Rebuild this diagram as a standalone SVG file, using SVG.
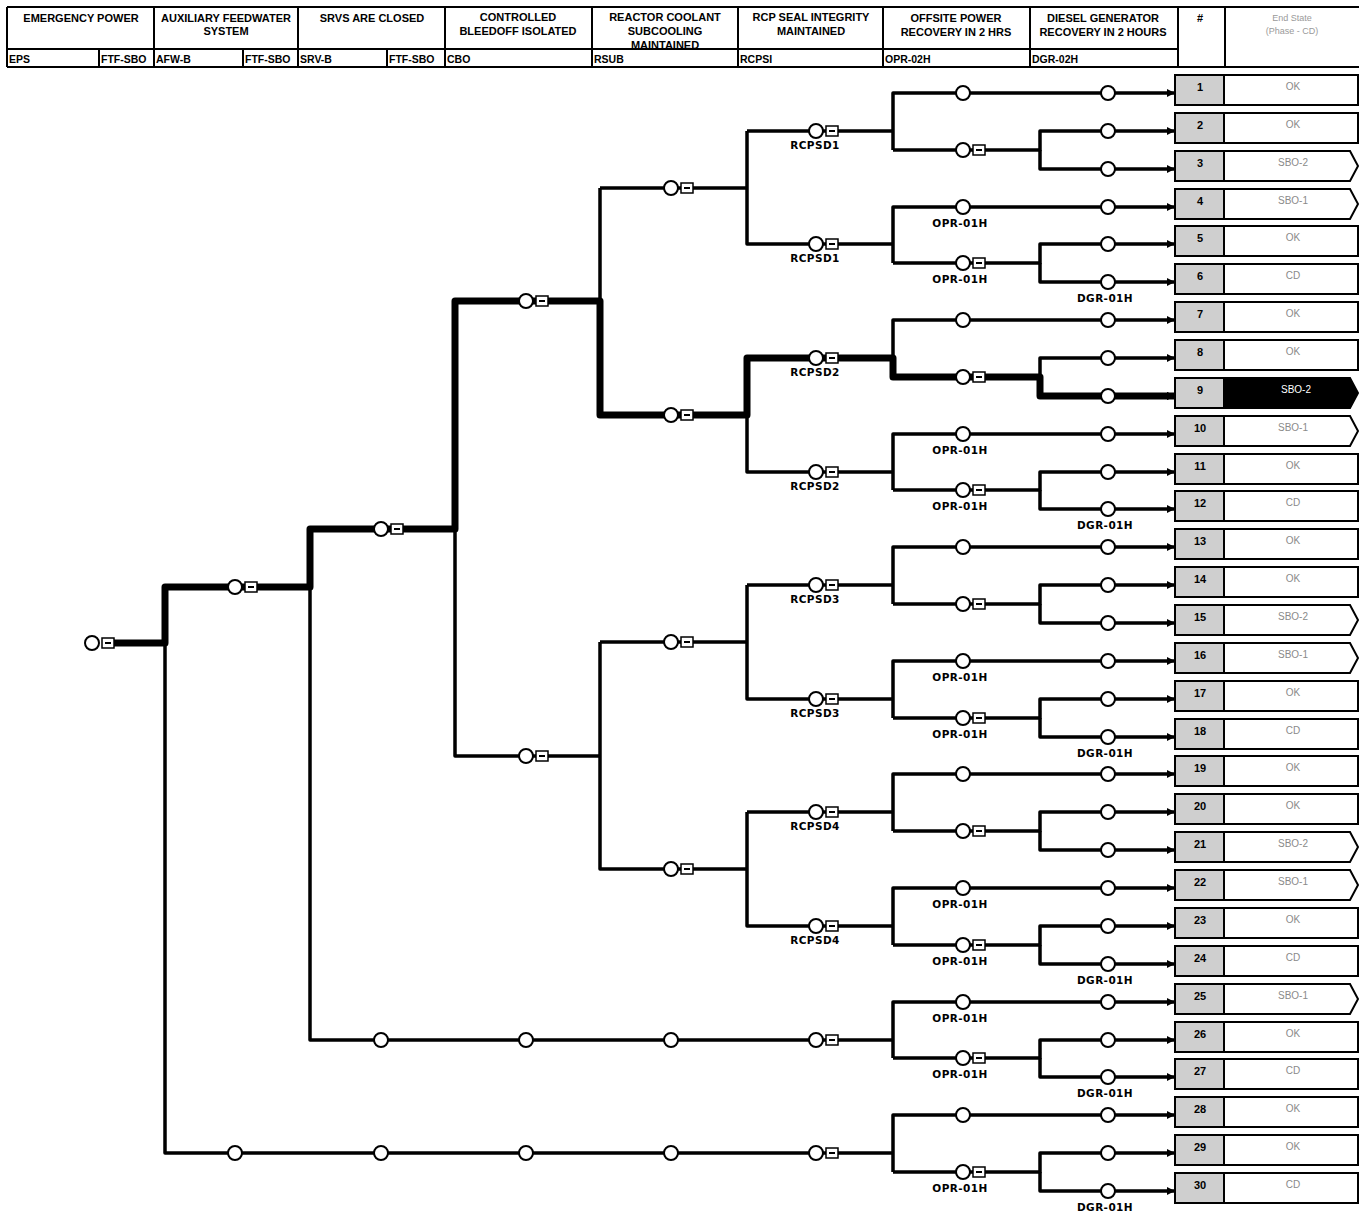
<svg xmlns="http://www.w3.org/2000/svg" xmlns:xlink="http://www.w3.org/1999/xlink" width="1359" height="1213" viewBox="0 0 1359 1213">
<style>
.ln{fill:none;stroke:#000;stroke-width:3.5;stroke-linejoin:round}
.thk{fill:none;stroke:#000;stroke-width:7;stroke-linejoin:round}
.hl{fill:none;stroke:#000;stroke-width:2}
.hd{font-family:"Liberation Sans",Arial,sans-serif;font-weight:bold;font-size:11px;text-anchor:middle}
.cd{font-family:"Liberation Sans",Arial,sans-serif;font-weight:bold;font-size:10.5px}
.lb{font-family:"DejaVu Sans",sans-serif;font-weight:bold;font-size:10.5px;text-anchor:middle;letter-spacing:0.4px}
.num{font-family:"Liberation Sans",Arial,sans-serif;font-weight:bold;font-size:11px;text-anchor:middle}
.es{font-family:"Liberation Sans",Arial,sans-serif;font-size:10px;fill:#8a8a8a;text-anchor:middle}
.esh{font-family:"Liberation Sans",Arial,sans-serif;font-size:9px;fill:#9a9a9a;text-anchor:middle}
.nc{fill:#fff;stroke:#000;stroke-width:2}
.nb{fill:#fff;stroke:#000;stroke-width:1.5}
.gr{fill:#cfcfcf;stroke:#000;stroke-width:2}
.ec{fill:#fff;stroke:#000;stroke-width:2}
.eb{fill:#000;stroke:#000;stroke-width:2}
</style>
<defs>
<marker id="ar" markerUnits="userSpaceOnUse" markerWidth="8" markerHeight="8" refX="8" refY="4" orient="auto"><path d="M0 0L8 4L0 8z" fill="#000"/></marker>
<g id="c"><circle r="7" class="nc"/></g>
<g id="cb"><circle r="7" class="nc"/><rect x="10" y="-5" width="12" height="10" class="nb"/><path d="M13 0h6" stroke="#000" stroke-width="2"/></g>
</defs>

<g id="header">
<path class="hl" d="M7 7H1359M7 49H1178M7 67H1359M7 7V67M154 7V67M298 7V67M445 7V67M592 7V67M738 7V67M883 7V67M1030 7V67M1178 7V67M1225 7V67M99 49V67M243 49V67M387 49V67"/>
<text class="hd" x="81" y="22">EMERGENCY POWER</text>
<text class="hd" x="226" y="22">AUXILIARY FEEDWATER</text>
<text class="hd" x="226" y="35">SYSTEM</text>
<text class="hd" x="372" y="22">SRVS ARE CLOSED</text>
<text class="hd" x="518" y="21">CONTROLLED</text>
<text class="hd" x="518" y="35">BLEEDOFF ISOLATED</text>
<text class="hd" x="665" y="21">REACTOR COOLANT</text>
<text class="hd" x="665" y="35">SUBCOOLING</text>
<text class="hd" x="665" y="49">MAINTAINED</text>
<text class="hd" x="811" y="21">RCP SEAL INTEGRITY</text>
<text class="hd" x="811" y="35">MAINTAINED</text>
<text class="hd" x="956" y="22">OFFSITE POWER</text>
<text class="hd" x="956" y="36">RECOVERY IN 2 HRS</text>
<text class="hd" x="1103" y="22">DIESEL GENERATOR</text>
<text class="hd" x="1103" y="36">RECOVERY IN 2 HOURS</text>
<text class="hd" x="1200" y="22">#</text>
<text class="esh" x="1292" y="21">End State</text>
<text class="esh" x="1292" y="34">(Phase - CD)</text>
<text class="cd" x="9" y="63">EPS</text>
<text class="cd" x="101" y="63">FTF-SBO</text>
<text class="cd" x="156" y="63">AFW-B</text>
<text class="cd" x="245" y="63">FTF-SBO</text>
<text class="cd" x="300" y="63">SRV-B</text>
<text class="cd" x="389" y="63">FTF-SBO</text>
<text class="cd" x="447" y="63">CBO</text>
<text class="cd" x="594" y="63">RSUB</text>
<text class="cd" x="740" y="63">RCPSI</text>
<text class="cd" x="885" y="63">OPR-02H</text>
<text class="cd" x="1032" y="63">DGR-02H</text>
</g>

<g id="connectors">
<path class="ln" d="M165 587V1153H893M165 587H310"/>
<path class="ln" d="M310 529V1040H893M310 529H455"/>
<path class="ln" d="M455 301V756H600M455 301H600"/>
<path class="ln" d="M600 188V415H747M600 188H747M600 642V869H747M600 642H747"/>
<path class="ln" d="M747 131V244H893M747 131H893M747 358V472H893M747 358H893M747 585V699H893M747 585H893M747 812V926H893M747 812H893"/>
<g marker-end="url(#ar)">
<path class="ln" d="M893 150V93H1175"/><path class="ln" d="M893 150H1040V131H1175"/><path class="ln" d="M1040 150V169H1175"/>
<path class="ln" d="M893 263V207H1175"/><path class="ln" d="M893 263H1040V244H1175"/><path class="ln" d="M1040 263V282H1175"/>
<path class="ln" d="M893 377V320H1175"/><path class="ln" d="M893 377H1040V358H1175"/><path class="ln" d="M1040 377V396H1175"/>
<path class="ln" d="M893 490V434H1175"/><path class="ln" d="M893 490H1040V472H1175"/><path class="ln" d="M1040 490V509H1175"/>
<path class="ln" d="M893 604V547H1175"/><path class="ln" d="M893 604H1040V585H1175"/><path class="ln" d="M1040 604V623H1175"/>
<path class="ln" d="M893 718V661H1175"/><path class="ln" d="M893 718H1040V699H1175"/><path class="ln" d="M1040 718V737H1175"/>
<path class="ln" d="M893 831V774H1175"/><path class="ln" d="M893 831H1040V812H1175"/><path class="ln" d="M1040 831V850H1175"/>
<path class="ln" d="M893 945V888H1175"/><path class="ln" d="M893 945H1040V926H1175"/><path class="ln" d="M1040 945V964H1175"/>
<path class="ln" d="M893 1058V1002H1175"/><path class="ln" d="M893 1058H1040V1040H1175"/><path class="ln" d="M1040 1058V1077H1175"/>
<path class="ln" d="M893 1172V1115H1175"/><path class="ln" d="M893 1172H1040V1153H1175"/><path class="ln" d="M1040 1172V1191H1175"/>
<path class="thk" d="M113 643H165V587H310V529H455V301H600V415H747V358H893V377H1040V396H1175"/>
</g>
</g>

<g id="nodes">
<g id="n-init"><use xlink:href="#cb" x="92" y="643"/></g>
<g id="n-eps-s"><use xlink:href="#cb" x="235" y="587"/></g>
<g id="n-eps-f"><use xlink:href="#c" x="235" y="1153"/></g>
<g id="n-afw-s"><use xlink:href="#cb" x="381" y="529"/></g>
<g id="n-afw-f1"><use xlink:href="#c" x="381" y="1040"/></g>
<g id="n-afw-f2"><use xlink:href="#c" x="381" y="1153"/></g>
<g id="n-cbo-s"><use xlink:href="#cb" x="526" y="301"/></g>
<g id="n-cbo-f"><use xlink:href="#cb" x="526" y="756"/></g>
<g id="n-cbo-x1"><use xlink:href="#c" x="526" y="1040"/></g>
<g id="n-cbo-x2"><use xlink:href="#c" x="526" y="1153"/></g>
<g id="n-rsub-1"><use xlink:href="#cb" x="671" y="188"/></g>
<g id="n-rsub-2"><use xlink:href="#cb" x="671" y="415"/></g>
<g id="n-rsub-3"><use xlink:href="#cb" x="671" y="642"/></g>
<g id="n-rsub-4"><use xlink:href="#cb" x="671" y="869"/></g>
<g id="n-rsub-x1"><use xlink:href="#c" x="671" y="1040"/></g>
<g id="n-rsub-x2"><use xlink:href="#c" x="671" y="1153"/></g>
<g id="n-rcp-1"><use xlink:href="#cb" x="816" y="131"/><text class="lb" x="815" y="149">RCPSD1</text></g>
<g id="n-rcp-2"><use xlink:href="#cb" x="816" y="244"/><text class="lb" x="815" y="262">RCPSD1</text></g>
<g id="n-rcp-3"><use xlink:href="#cb" x="816" y="358"/><text class="lb" x="815" y="376">RCPSD2</text></g>
<g id="n-rcp-4"><use xlink:href="#cb" x="816" y="472"/><text class="lb" x="815" y="490">RCPSD2</text></g>
<g id="n-rcp-5"><use xlink:href="#cb" x="816" y="585"/><text class="lb" x="815" y="603">RCPSD3</text></g>
<g id="n-rcp-6"><use xlink:href="#cb" x="816" y="699"/><text class="lb" x="815" y="717">RCPSD3</text></g>
<g id="n-rcp-7"><use xlink:href="#cb" x="816" y="812"/><text class="lb" x="815" y="830">RCPSD4</text></g>
<g id="n-rcp-8"><use xlink:href="#cb" x="816" y="926"/><text class="lb" x="815" y="944">RCPSD4</text></g>
<g id="n-rcp-9"><use xlink:href="#cb" x="816" y="1040"/></g>
<g id="n-rcp-10"><use xlink:href="#cb" x="816" y="1153"/></g>
<g id="n-opr-1"><use xlink:href="#c" x="963" y="93"/><use xlink:href="#cb" x="963" y="150"/></g>
<g id="n-opr-2"><use xlink:href="#c" x="963" y="207"/><text class="lb" x="960" y="227">OPR-01H</text><use xlink:href="#cb" x="963" y="263"/><text class="lb" x="960" y="283">OPR-01H</text></g>
<g id="n-opr-3"><use xlink:href="#c" x="963" y="320"/><use xlink:href="#cb" x="963" y="377"/></g>
<g id="n-opr-4"><use xlink:href="#c" x="963" y="434"/><text class="lb" x="960" y="454">OPR-01H</text><use xlink:href="#cb" x="963" y="490"/><text class="lb" x="960" y="510">OPR-01H</text></g>
<g id="n-opr-5"><use xlink:href="#c" x="963" y="547"/><use xlink:href="#cb" x="963" y="604"/></g>
<g id="n-opr-6"><use xlink:href="#c" x="963" y="661"/><text class="lb" x="960" y="681">OPR-01H</text><use xlink:href="#cb" x="963" y="718"/><text class="lb" x="960" y="738">OPR-01H</text></g>
<g id="n-opr-7"><use xlink:href="#c" x="963" y="774"/><use xlink:href="#cb" x="963" y="831"/></g>
<g id="n-opr-8"><use xlink:href="#c" x="963" y="888"/><text class="lb" x="960" y="908">OPR-01H</text><use xlink:href="#cb" x="963" y="945"/><text class="lb" x="960" y="965">OPR-01H</text></g>
<g id="n-opr-9"><use xlink:href="#c" x="963" y="1002"/><text class="lb" x="960" y="1022">OPR-01H</text><use xlink:href="#cb" x="963" y="1058"/><text class="lb" x="960" y="1078">OPR-01H</text></g>
<g id="n-opr-10"><use xlink:href="#c" x="963" y="1115"/><use xlink:href="#cb" x="963" y="1172"/><text class="lb" x="960" y="1192">OPR-01H</text></g>
<g id="n-dgr">
<use xlink:href="#c" x="1108" y="93"/><use xlink:href="#c" x="1108" y="131"/><use xlink:href="#c" x="1108" y="169"/>
<use xlink:href="#c" x="1108" y="207"/><use xlink:href="#c" x="1108" y="244"/><use xlink:href="#c" x="1108" y="282"/>
<use xlink:href="#c" x="1108" y="320"/><use xlink:href="#c" x="1108" y="358"/><use xlink:href="#c" x="1108" y="396"/>
<use xlink:href="#c" x="1108" y="434"/><use xlink:href="#c" x="1108" y="472"/><use xlink:href="#c" x="1108" y="509"/>
<use xlink:href="#c" x="1108" y="547"/><use xlink:href="#c" x="1108" y="585"/><use xlink:href="#c" x="1108" y="623"/>
<use xlink:href="#c" x="1108" y="661"/><use xlink:href="#c" x="1108" y="699"/><use xlink:href="#c" x="1108" y="737"/>
<use xlink:href="#c" x="1108" y="774"/><use xlink:href="#c" x="1108" y="812"/><use xlink:href="#c" x="1108" y="850"/>
<use xlink:href="#c" x="1108" y="888"/><use xlink:href="#c" x="1108" y="926"/><use xlink:href="#c" x="1108" y="964"/>
<use xlink:href="#c" x="1108" y="1002"/><use xlink:href="#c" x="1108" y="1040"/><use xlink:href="#c" x="1108" y="1077"/>
<use xlink:href="#c" x="1108" y="1115"/><use xlink:href="#c" x="1108" y="1153"/><use xlink:href="#c" x="1108" y="1191"/>
<text class="lb" x="1105" y="302">DGR-01H</text>
<text class="lb" x="1105" y="529">DGR-01H</text>
<text class="lb" x="1105" y="757">DGR-01H</text>
<text class="lb" x="1105" y="984">DGR-01H</text>
<text class="lb" x="1105" y="1097">DGR-01H</text>
<text class="lb" x="1105" y="1211">DGR-01H</text>
</g>
</g>

<g id="endstates">
<g id="s1"><rect class="gr" x="1175" y="75" width="49" height="30"/><text class="num" x="1200" y="91">1</text><rect class="ec" x="1224" y="75" width="134" height="30"/><text class="es" x="1293" y="90">OK</text></g>
<g id="s2"><rect class="gr" x="1175" y="113" width="49" height="30"/><text class="num" x="1200" y="129">2</text><rect class="ec" x="1224" y="113" width="134" height="30"/><text class="es" x="1293" y="128">OK</text></g>
<g id="s3"><rect class="gr" x="1175" y="151" width="49" height="30"/><text class="num" x="1200" y="167">3</text><path class="ec" d="M1224 151H1350L1358 166L1350 181H1224z"/><text class="es" x="1293" y="166">SBO-2</text></g>
<g id="s4"><rect class="gr" x="1175" y="189" width="49" height="30"/><text class="num" x="1200" y="205">4</text><path class="ec" d="M1224 189H1350L1358 204L1350 219H1224z"/><text class="es" x="1293" y="204">SBO-1</text></g>
<g id="s5"><rect class="gr" x="1175" y="226" width="49" height="30"/><text class="num" x="1200" y="242">5</text><rect class="ec" x="1224" y="226" width="134" height="30"/><text class="es" x="1293" y="241">OK</text></g>
<g id="s6"><rect class="gr" x="1175" y="264" width="49" height="30"/><text class="num" x="1200" y="280">6</text><rect class="ec" x="1224" y="264" width="134" height="30"/><text class="es" x="1293" y="279">CD</text></g>
<g id="s7"><rect class="gr" x="1175" y="302" width="49" height="30"/><text class="num" x="1200" y="318">7</text><rect class="ec" x="1224" y="302" width="134" height="30"/><text class="es" x="1293" y="317">OK</text></g>
<g id="s8"><rect class="gr" x="1175" y="340" width="49" height="30"/><text class="num" x="1200" y="356">8</text><rect class="ec" x="1224" y="340" width="134" height="30"/><text class="es" x="1293" y="355">OK</text></g>
<g id="s9"><rect class="gr" x="1175" y="378" width="49" height="30"/><text class="num" x="1200" y="394">9</text><path class="eb" d="M1224 378H1350L1358 393L1350 408H1224z"/><text class="es" x="1296" y="393" style="fill:#fff">SBO-2</text></g>
<g id="s10"><rect class="gr" x="1175" y="416" width="49" height="30"/><text class="num" x="1200" y="432">10</text><path class="ec" d="M1224 416H1350L1358 431L1350 446H1224z"/><text class="es" x="1293" y="431">SBO-1</text></g>
<g id="s11"><rect class="gr" x="1175" y="454" width="49" height="30"/><text class="num" x="1200" y="470">11</text><rect class="ec" x="1224" y="454" width="134" height="30"/><text class="es" x="1293" y="469">OK</text></g>
<g id="s12"><rect class="gr" x="1175" y="491" width="49" height="30"/><text class="num" x="1200" y="507">12</text><rect class="ec" x="1224" y="491" width="134" height="30"/><text class="es" x="1293" y="506">CD</text></g>
<g id="s13"><rect class="gr" x="1175" y="529" width="49" height="30"/><text class="num" x="1200" y="545">13</text><rect class="ec" x="1224" y="529" width="134" height="30"/><text class="es" x="1293" y="544">OK</text></g>
<g id="s14"><rect class="gr" x="1175" y="567" width="49" height="30"/><text class="num" x="1200" y="583">14</text><rect class="ec" x="1224" y="567" width="134" height="30"/><text class="es" x="1293" y="582">OK</text></g>
<g id="s15"><rect class="gr" x="1175" y="605" width="49" height="30"/><text class="num" x="1200" y="621">15</text><path class="ec" d="M1224 605H1350L1358 620L1350 635H1224z"/><text class="es" x="1293" y="620">SBO-2</text></g>
<g id="s16"><rect class="gr" x="1175" y="643" width="49" height="30"/><text class="num" x="1200" y="659">16</text><path class="ec" d="M1224 643H1350L1358 658L1350 673H1224z"/><text class="es" x="1293" y="658">SBO-1</text></g>
<g id="s17"><rect class="gr" x="1175" y="681" width="49" height="30"/><text class="num" x="1200" y="697">17</text><rect class="ec" x="1224" y="681" width="134" height="30"/><text class="es" x="1293" y="696">OK</text></g>
<g id="s18"><rect class="gr" x="1175" y="719" width="49" height="30"/><text class="num" x="1200" y="735">18</text><rect class="ec" x="1224" y="719" width="134" height="30"/><text class="es" x="1293" y="734">CD</text></g>
<g id="s19"><rect class="gr" x="1175" y="756" width="49" height="30"/><text class="num" x="1200" y="772">19</text><rect class="ec" x="1224" y="756" width="134" height="30"/><text class="es" x="1293" y="771">OK</text></g>
<g id="s20"><rect class="gr" x="1175" y="794" width="49" height="30"/><text class="num" x="1200" y="810">20</text><rect class="ec" x="1224" y="794" width="134" height="30"/><text class="es" x="1293" y="809">OK</text></g>
<g id="s21"><rect class="gr" x="1175" y="832" width="49" height="30"/><text class="num" x="1200" y="848">21</text><path class="ec" d="M1224 832H1350L1358 847L1350 862H1224z"/><text class="es" x="1293" y="847">SBO-2</text></g>
<g id="s22"><rect class="gr" x="1175" y="870" width="49" height="30"/><text class="num" x="1200" y="886">22</text><path class="ec" d="M1224 870H1350L1358 885L1350 900H1224z"/><text class="es" x="1293" y="885">SBO-1</text></g>
<g id="s23"><rect class="gr" x="1175" y="908" width="49" height="30"/><text class="num" x="1200" y="924">23</text><rect class="ec" x="1224" y="908" width="134" height="30"/><text class="es" x="1293" y="923">OK</text></g>
<g id="s24"><rect class="gr" x="1175" y="946" width="49" height="30"/><text class="num" x="1200" y="962">24</text><rect class="ec" x="1224" y="946" width="134" height="30"/><text class="es" x="1293" y="961">CD</text></g>
<g id="s25"><rect class="gr" x="1175" y="984" width="49" height="30"/><text class="num" x="1200" y="1000">25</text><path class="ec" d="M1224 984H1350L1358 999L1350 1014H1224z"/><text class="es" x="1293" y="999">SBO-1</text></g>
<g id="s26"><rect class="gr" x="1175" y="1022" width="49" height="30"/><text class="num" x="1200" y="1038">26</text><rect class="ec" x="1224" y="1022" width="134" height="30"/><text class="es" x="1293" y="1037">OK</text></g>
<g id="s27"><rect class="gr" x="1175" y="1059" width="49" height="30"/><text class="num" x="1200" y="1075">27</text><rect class="ec" x="1224" y="1059" width="134" height="30"/><text class="es" x="1293" y="1074">CD</text></g>
<g id="s28"><rect class="gr" x="1175" y="1097" width="49" height="30"/><text class="num" x="1200" y="1113">28</text><rect class="ec" x="1224" y="1097" width="134" height="30"/><text class="es" x="1293" y="1112">OK</text></g>
<g id="s29"><rect class="gr" x="1175" y="1135" width="49" height="30"/><text class="num" x="1200" y="1151">29</text><rect class="ec" x="1224" y="1135" width="134" height="30"/><text class="es" x="1293" y="1150">OK</text></g>
<g id="s30"><rect class="gr" x="1175" y="1173" width="49" height="30"/><text class="num" x="1200" y="1189">30</text><rect class="ec" x="1224" y="1173" width="134" height="30"/><text class="es" x="1293" y="1188">CD</text></g>
</g>
</svg>
